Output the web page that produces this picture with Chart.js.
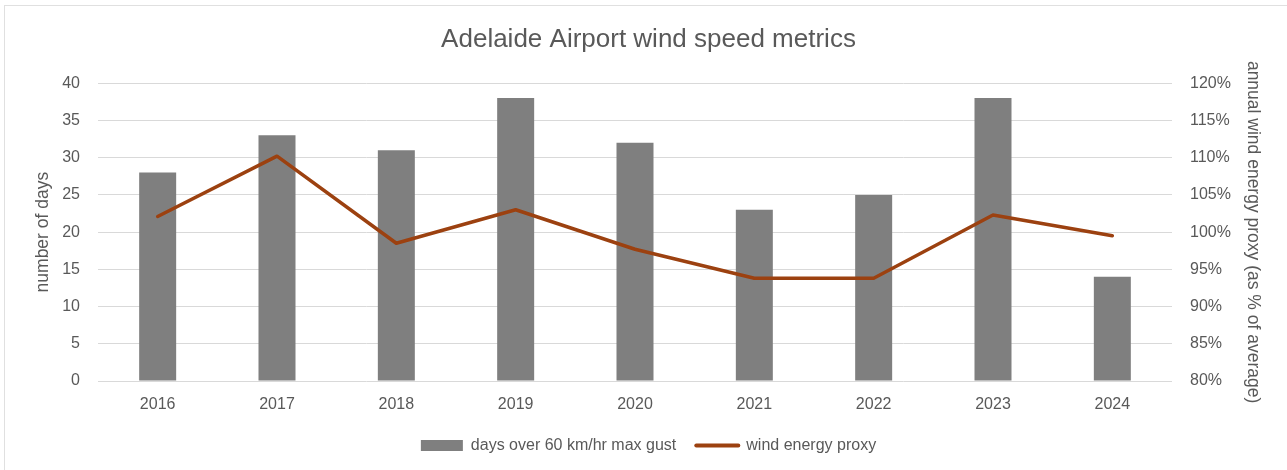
<!DOCTYPE html>
<html>
<head>
<meta charset="utf-8">
<script src="https://cdn.jsdelivr.net/npm/chart.js@4.4.1/dist/chart.umd.min.js"></script>
<style>
  html, body { margin: 0; padding: 0; background: #ffffff; }
  #wrap { width: 1287px; height: 470px; }
</style>
</head>
<body>
<div id="wrap"><canvas id="c" width="1287" height="470"></canvas></div>
<script>
const years = ['2016', '2017', '2018', '2019', '2020', '2021', '2022', '2023', '2024'];
const gustDays = [28, 33, 31, 38, 32, 23, 25, 38, 14];
const windEnergyPct = [102.1, 110.2, 98.5, 103.0, 97.7, 93.8, 93.8, 102.3, 99.5];
const leftTicks = { min: 0, max: 40, step: 5 };
const rightTicks = { min: 80, max: 120, step: 5 };

const FONT = "'Liberation Sans', Arial, sans-serif";
const TXT = '#595959';

const borderPlugin = {
  id: 'chartBorder',
  beforeDraw(chart) {
    const ctx = chart.ctx;
    ctx.save();
    ctx.fillStyle = '#ffffff';
    ctx.fillRect(0, 0, chart.width, chart.height);
    ctx.strokeStyle = '#e0e0e0';
    ctx.lineWidth = 1;
    ctx.strokeRect(4.5, 5.5, chart.width + 10, chart.height + 10);
    ctx.restore();
  }
};

new Chart(document.getElementById('c'), {
  data: {
    labels: years,
    datasets: [
      {
        type: 'bar',
        label: 'days over 60 km/hr max gust',
        data: gustDays,
        backgroundColor: '#7f7f7f',
        borderWidth: 0,
        yAxisID: 'y',
        order: 1,
        barPercentage: 0.31,
        categoryPercentage: 1.0
      },
      {
        type: 'line',
        label: 'wind energy proxy',
        data: windEnergyPct,
        borderColor: '#9c4110',
        backgroundColor: '#9c4110',
        borderWidth: 3.5,
        pointRadius: 0,
        pointHoverRadius: 0,
        pointStyle: 'line',
        tension: 0,
        yAxisID: 'y1',
        order: 0,
        borderCapStyle: 'round',
        borderJoinStyle: 'round'
      }
    ]
  },
  options: {
    responsive: false,
    devicePixelRatio: 1,
    animation: false,
    layout: { padding: { left: 30, right: 20, top: 0, bottom: 7.5 } },
    plugins: {
      title: {
        display: true,
        text: 'Adelaide Airport wind speed metrics',
        color: TXT,
        font: { family: FONT, size: 26, weight: 'normal', lineHeight: 1.2 },
        padding: { top: 24, bottom: 28 }
      },
      legend: {
        display: true,
        position: 'bottom',
        maxHeight: 45,
        labels: {
          color: TXT,
          font: { family: FONT, size: 16 },
          usePointStyle: true,
          pointStyleWidth: 42,
          boxHeight: 11,
          padding: 20,
          generateLabels(chart) {
            const items = Chart.defaults.plugins.legend.labels.generateLabels(chart);
            items.sort((a, b) => a.datasetIndex - b.datasetIndex);
            items.forEach(it => {
              if (it.datasetIndex === 0) {
                it.pointStyle = 'rect';
                it.lineWidth = 0;
              } else {
                it.pointStyle = 'line';
                it.lineWidth = 4;
                it.lineCap = 'round';
              }
            });
            return items;
          }
        }
      },
      tooltip: { enabled: false }
    },
    scales: {
      x: {
        offset: true,
        grid: { display: false, drawTicks: false },
        border: { display: false },
        ticks: { color: TXT, font: { family: FONT, size: 16 }, padding: 14, maxRotation: 0 },
        afterFit(scale) { scale.height = 36.5; }
      },
      y: {
        position: 'left',
        min: leftTicks.min,
        max: leftTicks.max,
        ticks: { stepSize: leftTicks.step, color: TXT, font: { family: FONT, size: 16 }, padding: 18 },
        grid: { color: '#d9d9d9', lineWidth: 1, drawTicks: false },
        border: { display: false },
        title: {
          display: true,
          text: 'number of days',
          color: TXT,
          font: { family: FONT, size: 17.5, lineHeight: 1.2 },
          padding: { top: 2.5, bottom: 0 }
        },
        afterFit(scale) { scale.width = 68; }
      },
      y1: {
        position: 'right',
        min: rightTicks.min,
        max: rightTicks.max,
        ticks: {
          stepSize: rightTicks.step,
          color: TXT,
          font: { family: FONT, size: 16 },
          padding: 18,
          callback: v => v + '%'
        },
        grid: { display: false, drawTicks: false },
        border: { display: false },
        title: {
          display: true,
          text: 'annual wind energy proxy (as % of average)',
          color: TXT,
          font: { family: FONT, size: 17.5, lineHeight: 1.2 },
          padding: { top: 3.5, bottom: 0 }
        },
        afterFit(scale) { scale.width = 95; }
      }
    }
  },
  plugins: [borderPlugin]
});
</script>
</body>
</html>
